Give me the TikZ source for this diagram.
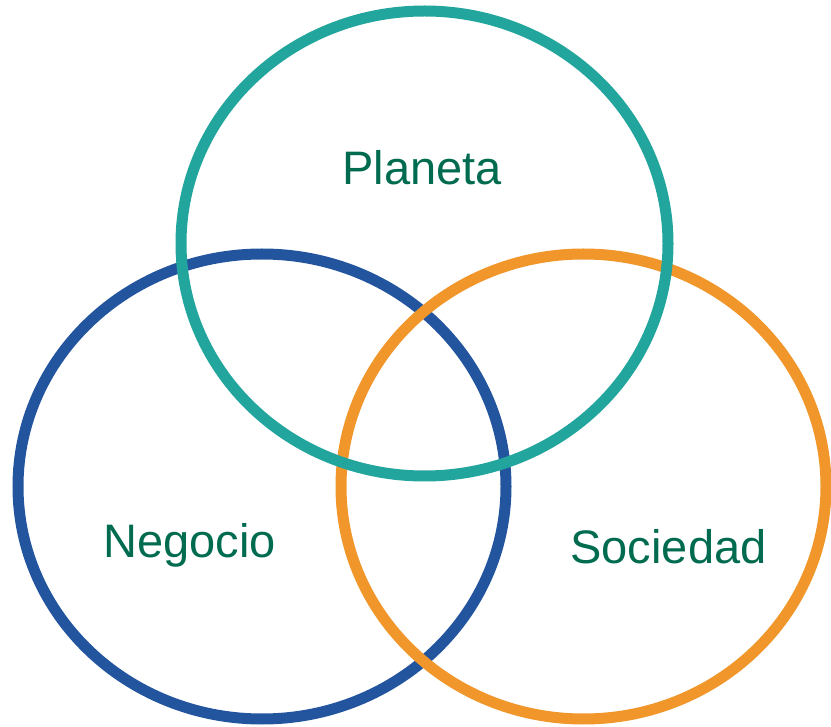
\documentclass[tikz,border=0pt]{standalone}
\usepackage{fontspec}
\setmainfont{Liberation Sans}
\definecolor{cteal}{HTML}{22A59C}
\definecolor{cblue}{HTML}{23559F}
\definecolor{corange}{HTML}{F0962B}
\definecolor{ctext}{HTML}{006B4F}
\begin{document}
\begin{tikzpicture}[x=1pt,y=-1pt,
  ring/.style={line width=11pt},
  lbl/.style={text=ctext,font=\fontsize{47}{51}\selectfont,anchor=base,inner sep=0pt}]
\useasboundingbox (0,0) rectangle (831,727);
\draw[ring,cblue] (262,486.5) ellipse [x radius=244, y radius=232.5];
\draw[ring,corange] (583.5,486.5) ellipse [x radius=242.5, y radius=232.5];
\draw[ring,cteal] (424.5,243.5) ellipse [x radius=243.5, y radius=232.5];
\node[lbl] (planeta) at (422,185) {Planeta};
\node[lbl] (negocio) at (189.5,558) {Negocio};
\node[lbl] (sociedad) at (668.5,564) {Sociedad};
\end{tikzpicture}
\end{document}
